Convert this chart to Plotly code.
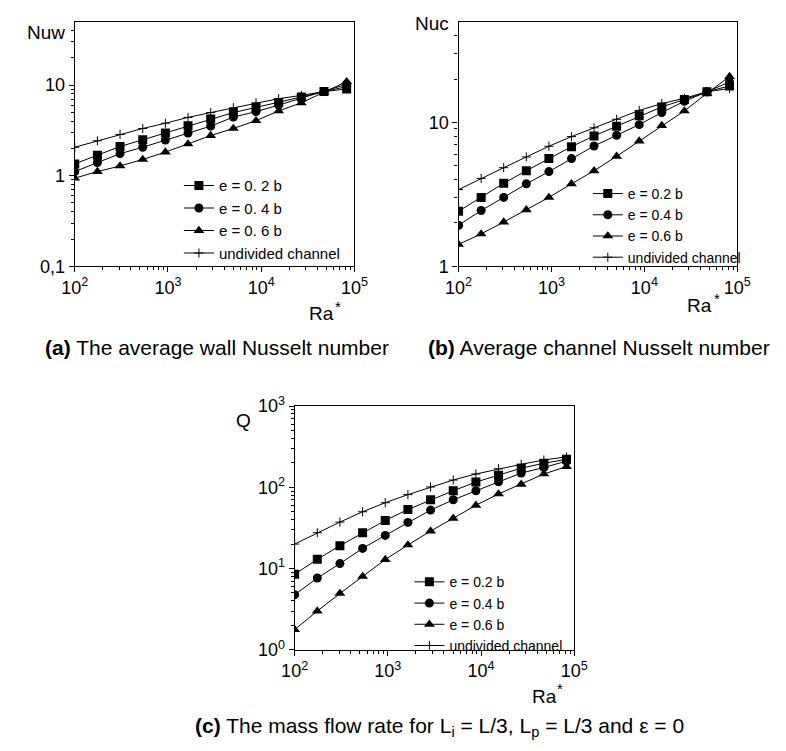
import plotly.graph_objects as go

# Modified Rayleigh number at which each case was computed
ra = [100, 175, 306, 536, 938, 1641, 2872, 5027, 8796, 15394, 26939, 47143, 82500]

# (a) average wall Nusselt number
nuw_02 = [1.35, 1.68, 2.10, 2.49, 2.96, 3.55, 4.22, 4.97, 5.67, 6.41, 7.38, 8.48, 9.06]
nuw_04 = [1.11, 1.40, 1.75, 2.06, 2.47, 2.96, 3.52, 4.43, 5.09, 6.01, 7.20, 8.48, 10.2]
nuw_06 = [0.94, 1.11, 1.28, 1.51, 1.82, 2.24, 2.77, 3.32, 4.05, 5.18, 6.37, 8.34, 10.9]
nuw_und = [2.06, 2.43, 2.85, 3.32, 3.79, 4.40, 4.97, 5.62, 6.37, 7.08, 7.69, 8.48, 9.6]

# (b) average channel Nusselt number
nuc_02 = [2.41, 3.01, 3.78, 4.61, 5.60, 6.78, 8.05, 9.40, 11.1, 12.8, 14.4, 16.3, 17.9]
nuc_04 = [1.93, 2.44, 3.01, 3.74, 4.55, 5.60, 6.85, 8.13, 9.64, 11.7, 14.0, 16.3, 19.1]
nuc_06 = [1.42, 1.68, 2.03, 2.47, 3.01, 3.74, 4.61, 5.81, 7.41, 9.5, 12.0, 15.9, 20.8]
nuc_und = [3.41, 4.08, 4.84, 5.75, 6.82, 7.96, 9.16, 10.5, 12.1, 13.5, 14.7, 16.3, 17.2]

# (c) mass flow rate
q_02 = [8.5, 13.0, 19.1, 27.6, 39.1, 53.3, 70.2, 90.7, 116, 141, 172, 198, 221]
q_04 = [4.75, 7.64, 11.5, 17.7, 25.6, 37.0, 52.4, 70.2, 90.7, 117, 150, 175, 211]
q_06 = [1.77, 3.0, 4.93, 8.0, 12.9, 19.5, 28.9, 41.6, 60.1, 82.8, 109, 146, 180]
q_und = [20.0, 27.6, 37.3, 50, 64.6, 81.3, 101, 123, 146, 169, 192, 217, 237]

labels_a = ["e = 0. 2 b", "e = 0. 4 b", "e = 0. 6 b", "undivided channel"]
labels_bc = ["e = 0.2 b", "e = 0.4 b", "e = 0.6 b", "undivided channel"]

x_ticks = [1e2, 1e3, 1e4, 1e5]
x_ticktext = ["10<sup>2</sup>", "10<sup>3</sup>", "10<sup>4</sup>", "10<sup>5</sup>"]

FONT = "Liberation Sans, Arial, sans-serif"
W, H = 786, 751


def px(x):
    return x / W


def py(y):
    return 1 - y / H


def minor_vals(lo_exp, hi_exp):
    vals = []
    for e in range(lo_exp, hi_exp):
        for m in range(2, 10):
            vals.append(m * 10 ** e)
    return vals


symbols = [
    dict(symbol="square", size=9, color="black"),
    dict(symbol="circle", size=9, color="black"),
    dict(symbol="triangle-up", size=9.5, color="black"),
    dict(symbol="cross-thin", size=6.5, color="black", line=dict(color="black", width=1)),
]

fig = go.Figure()

panels = [
    ("x", "y", "legend", [nuw_02, nuw_04, nuw_06, nuw_und], labels_a),
    ("x2", "y2", "legend2", [nuc_02, nuc_04, nuc_06, nuc_und], labels_bc),
    ("x3", "y3", "legend3", [q_02, q_04, q_06, q_und], labels_bc),
]

for xa, ya, leg, series, labels in panels:
    for vals, name, mk in zip(series, labels, symbols):
        fig.add_trace(go.Scatter(
            x=ra, y=vals, name=name, mode="lines+markers",
            line=dict(color="black", width=1), marker=mk,
            xaxis=xa, yaxis=ya, legend=leg,
        ))

axis_common = dict(
    type="log", showline=True, linecolor="black", linewidth=1.2, mirror=True,
    ticks="outside", ticklen=5, tickwidth=1, tickcolor="black",
    showgrid=False, zeroline=False,
    tickfont=dict(family=FONT, size=18, color="black"),
)

x_minor = dict(tickmode="array", tickvals=minor_vals(2, 5), ticks="outside",
               ticklen=3, tickwidth=1, tickcolor="black", showgrid=False)

doms = {
    "a": ([px(63), px(353)], [py(262), py(10)]),
    "b": ([px(461), px(750)], [py(262), py(10)]),
    "c": ([px(291), px(581)], [py(657), py(406)]),
}

fig.update_layout(
    xaxis=dict(axis_common, domain=doms["a"][0], anchor="y", range=[2, 5],
               tickmode="array", tickvals=x_ticks, ticktext=x_ticktext, minor=x_minor),
    yaxis=dict(axis_common, domain=doms["a"][1], anchor="x", range=[-1, 1.69897],
               tickmode="array", tickvals=[0.1, 1, 10], ticktext=["0,1", "1", "10"],
               minor=dict(tickmode="array", tickvals=minor_vals(-1, 1) + [20, 30, 40],
                          ticks="outside", ticklen=3, tickwidth=1, tickcolor="black",
                          showgrid=False)),
    xaxis2=dict(axis_common, domain=doms["b"][0], anchor="y2", range=[2, 5],
                tickmode="array", tickvals=x_ticks, ticktext=x_ticktext, minor=x_minor),
    yaxis2=dict(axis_common, domain=doms["b"][1], anchor="x2", range=[0, 1.69897],
                tickmode="array", tickvals=[1, 10], ticktext=["1", "10"],
                minor=dict(tickmode="array", tickvals=minor_vals(0, 1) + [20, 30, 40],
                           ticks="outside", ticklen=3, tickwidth=1, tickcolor="black",
                           showgrid=False)),
    xaxis3=dict(axis_common, domain=doms["c"][0], anchor="y3", range=[2, 5],
                tickmode="array", tickvals=x_ticks, ticktext=x_ticktext, minor=x_minor),
    yaxis3=dict(axis_common, domain=doms["c"][1], anchor="x3", range=[0, 3],
                tickmode="array", tickvals=[1, 10, 100, 1000],
                ticktext=["10<sup>0</sup>", "10<sup>1</sup>", "10<sup>2</sup>", "10<sup>3</sup>"],
                minor=dict(tickmode="array", tickvals=minor_vals(0, 3),
                           ticks="outside", ticklen=3, tickwidth=1, tickcolor="black",
                           showgrid=False)),
)

legend_common = dict(
    bgcolor="rgba(0,0,0,0)", borderwidth=0, xanchor="left", yanchor="top",
    tracegroupgap=0, itemsizing="trace",
)
fig.update_layout(
    legend=dict(legend_common, x=px(171), y=py(162),
                font=dict(family=FONT, size=15, color="black")),
    legend2=dict(legend_common, x=px(595), y=py(171),
                 font=dict(family=FONT, size=14, color="black")),
    legend3=dict(legend_common, x=px(410), y=py(571),
                 font=dict(family=FONT, size=14, color="black")),
)


def note(text, x, y, size, xanchor="center"):
    fig.add_annotation(text=text, x=px(x), y=py(y), xref="paper", yref="paper",
                       showarrow=False, xanchor=xanchor, yanchor="middle",
                       font=dict(family=FONT, size=size, color="black"))


# axis titles
note("Nuw", 33, 21, 19)
note("Nuc", 433, 12, 19)
note("Q", 238, 421, 19)
note("Ra", 319, 311, 19)
note("*", 336, 303, 15)
note("Ra", 711, 302, 19)
note("*", 729, 295, 15)
note("Ra", 550, 705, 19)
note("*", 566, 697, 15)

# captions
note("<b>(a)</b> The average wall Nusselt number", 210, 346, 21)
note("<b>(b)</b> Average channel Nusselt number", 607, 346, 21)
note("<b>(c)</b> The mass flow rate for L<sub>i</sub> = L/3, L<sub>p</sub> = L/3 and \u03b5 = 0",
     441, 737, 21)

fig.update_layout(
    width=W, height=H, margin=dict(l=0, r=0, t=0, b=0),
    paper_bgcolor="white", plot_bgcolor="white", showlegend=True,
)

fig.write_html("out.html")
